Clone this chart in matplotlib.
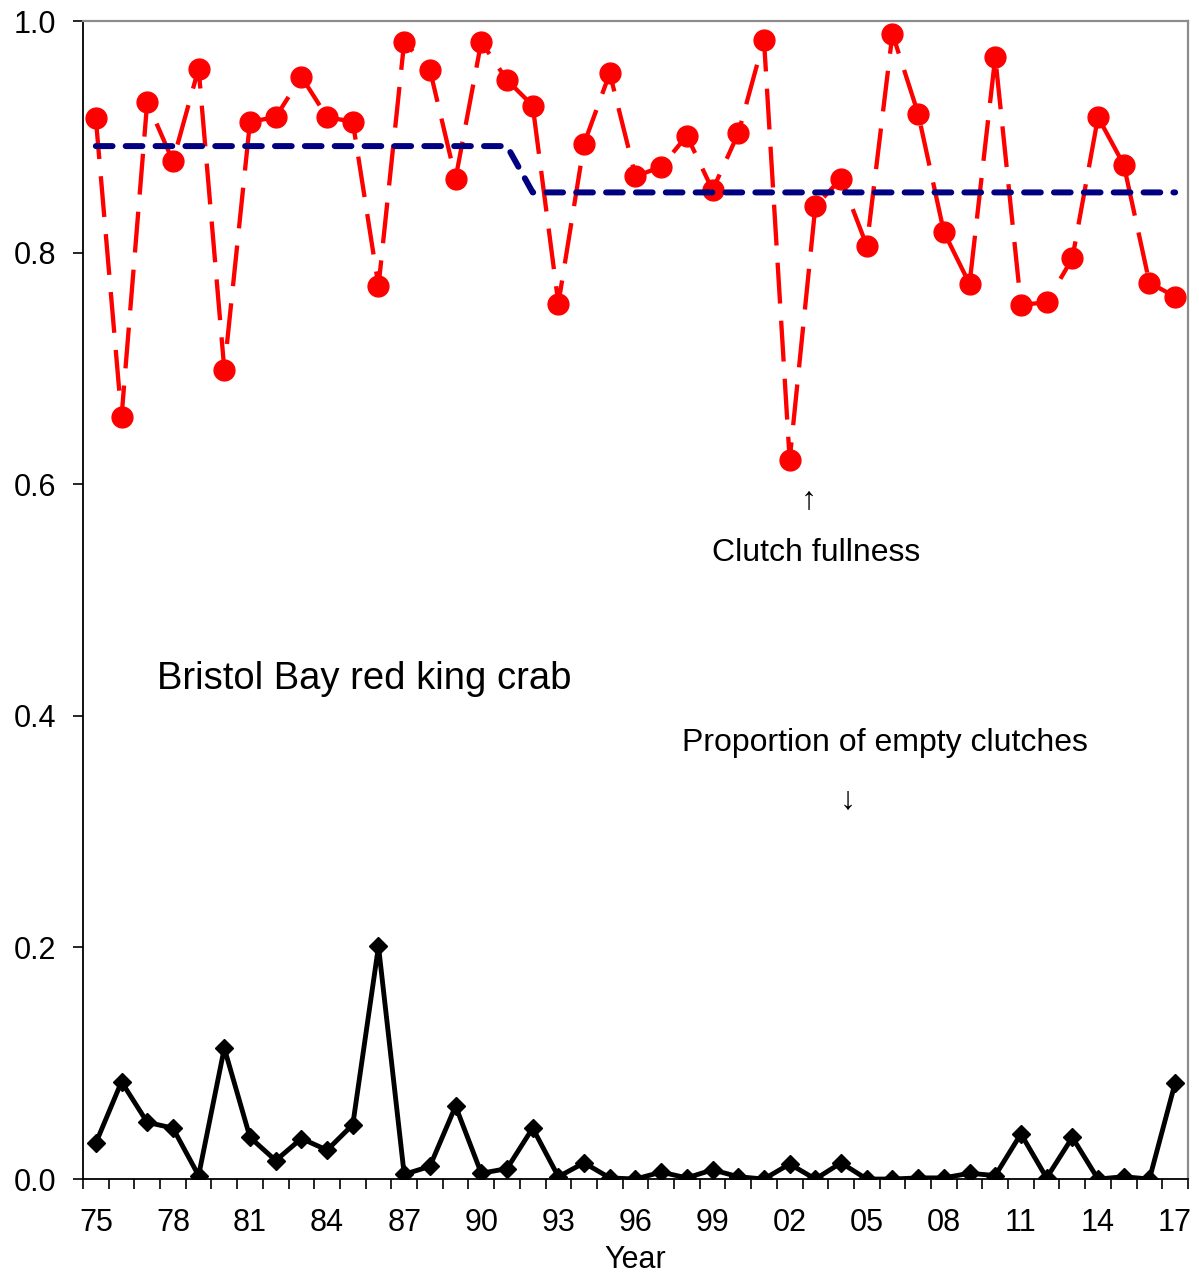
import matplotlib
matplotlib.use("Agg")
import matplotlib.pyplot as plt
from matplotlib.ticker import FormatStrFormatter

plt.rcParams['font.family'] = ['Liberation Sans', 'DejaVu Sans']

# Jahre der Erhebung
years = list(range(1975, 2018))

# Gelegefuellung (rote Kreise)
clutch_fullness = [0.916, 0.658, 0.930, 0.879, 0.959, 0.699, 0.913, 0.917, 0.952, 0.917,
                   0.913, 0.771, 0.982, 0.958, 0.864, 0.982, 0.949, 0.927, 0.756, 0.894,
                   0.955, 0.866, 0.874, 0.901, 0.854, 0.903, 0.984, 0.621, 0.840, 0.864,
                   0.806, 0.989, 0.920, 0.818, 0.773, 0.969, 0.755, 0.757, 0.795, 0.917,
                   0.876, 0.774, 0.762]

# Mittelwert je Periode (blau gestrichelt)
period_mean = [0.892] * 17 + [0.852] * 26

# Anteil leerer Gelege (schwarze Rauten)
empty_clutches = [0.031, 0.084, 0.049, 0.044, 0.003, 0.113, 0.036, 0.016, 0.035, 0.025,
                  0.047, 0.201, 0.004, 0.011, 0.063, 0.005, 0.009, 0.044, 0.002, 0.014,
                  0.001, 0.000, 0.006, 0.001, 0.008, 0.002, 0.000, 0.013, 0.000, 0.014,
                  0.000, 0.000, 0.001, 0.001, 0.005, 0.003, 0.039, 0.001, 0.036, 0.000,
                  0.002, 0.000, 0.083]

label_years = list(range(1975, 2018, 3))
label_text = ['%02d' % (y % 100) for y in label_years]
yticks = [0.0, 0.2, 0.4, 0.6, 0.8, 1.0]

fig = plt.figure(figsize=(11.99, 12.82), dpi=100)
ax = fig.add_axes([0.0692, 0.0803, 0.9908 - 0.0692, 0.9836 - 0.0803])

# Linien
ax.plot(years, clutch_fullness, color='red', lw=3.1, dashes=(9.5, 4),
        marker='o', ms=15, zorder=3)
ax.plot(years, period_mean, color='#000080', lw=4.3, dashes=(2.8, 2.2),
        dash_capstyle='round', zorder=4)
ax.plot(years, empty_clutches, color='black', lw=3.5, marker='D', ms=9.5,
        zorder=3)

# Beschriftungen im Diagramm
ax.text(1977.38, 0.432, 'Bristol Bay red king crab', fontsize=27.5,
        ha='left', va='center')
ax.text(2003.02, 0.541, 'Clutch fullness', fontsize=23, ha='center', va='center')
ax.text(2002.75, 0.586, '\u2191', fontsize=23, ha='center', va='center')
ax.text(2005.7, 0.3765, 'Proportion of empty clutches', fontsize=23,
        ha='center', va='center')
ax.text(2004.27, 0.327, '\u2193', fontsize=23, ha='center', va='center')

# Achsen
ax.set_xlim(1974.5, 2017.5)
ax.set_ylim(0, 1.0)
ax.set_yticks(yticks)
ax.yaxis.set_major_formatter(FormatStrFormatter('%.1f'))
ax.set_xticks(label_years)
ax.set_xticklabels(label_text)
ax.set_xticks([y - 0.5 for y in years] + [2017.5], minor=True)
ax.tick_params(axis='x', which='major', length=0, labelsize=22, pad=21)
ax.tick_params(axis='x', which='minor', length=7, width=1.2, direction='out')
ax.tick_params(axis='y', which='major', length=7, width=1.2, labelsize=22, pad=12)
ax.set_xlabel('Year', fontsize=22, labelpad=5)

ax.spines['left'].set_color('black')
ax.spines['bottom'].set_color('black')
ax.spines['left'].set_linewidth(1.3)
ax.spines['bottom'].set_linewidth(1.3)
ax.spines['top'].set_color('#8c8c8c')
ax.spines['right'].set_color('#8c8c8c')
ax.spines['top'].set_linewidth(1.6)
ax.spines['right'].set_linewidth(1.6)

fig.savefig('out.png', dpi=100)
